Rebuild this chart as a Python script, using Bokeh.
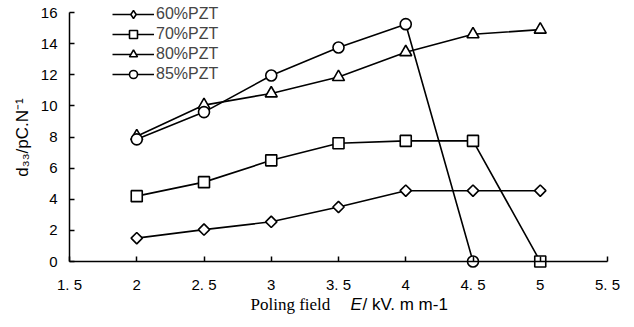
import math
from bokeh.plotting import figure
from bokeh.models import FixedTicker, Range1d, Label, Legend
from bokeh.embed import file_html
from bokeh.resources import INLINE

# ---- data ----
field = [2, 2.5, 3, 3.5, 4, 4.5, 5]
pzt60 = [1.5, 2.05, 2.55, 3.5, 4.55, 4.55, 4.55]
pzt70 = [4.2, 5.1, 6.5, 7.6, 7.75, 7.75, 0.0]
pzt80 = [8.05, 10.05, 10.8, 11.85, 13.45, 14.6, 14.9]
field85 = [2, 2.5, 3, 3.5, 4, 4.5]
pzt85 = [7.85, 9.6, 11.95, 13.75, 15.25, 0.0]

x_ticks = [1.5, 2, 2.5, 3, 3.5, 4, 4.5, 5, 5.5]
x_tick_labels = ["1. 5", "2", "2. 5", "3", "3. 5", "4", "4. 5", "5", "5. 5"]
y_ticks = [0, 2, 4, 6, 8, 10, 12, 14, 16]

FONT = "Liberation Sans"

# frame covers the whole canvas; axes are drawn at fixed data positions
W, H = 626, 325
X0, X1 = 1.5, 5.5
Y0, Y1 = 0, 16
PX_L, PX_R = 69, 607      # pixel positions of x=1.5 and x=5.5
PY_B, PY_T = 261, 12      # pixel positions of y=0 and y=16
sx = (PX_R - PX_L) / (X1 - X0)
sy = (PY_B - PY_T) / (Y1 - Y0)
x_range = Range1d(X0 - PX_L / sx, X1 + (W - PX_R) / sx)
y_range = Range1d(Y0 - (H - PY_B) / sy, Y1 + PY_T / sy)

p = figure(width=W, height=H, output_backend="svg", toolbar_location=None,
           x_range=x_range, y_range=y_range,
           min_border_left=0, min_border_right=0, min_border_top=0,
           min_border_bottom=0)
# range used only by legend-only glyphs, so they never appear in the plot area
p.extra_x_ranges = {"legend_only": Range1d(-1000, -999)}
p.outline_line_color = None
p.xgrid.visible = False
p.ygrid.visible = False
p.background_fill_color = "white"

for ax in (p.xaxis[0], p.yaxis[0]):
    ax.axis_line_color = "black"
    ax.axis_line_width = 1.5
    ax.major_tick_line_color = "black"
    ax.major_tick_line_width = 1.5
    ax.major_tick_in = 5
    ax.major_tick_out = 0
    ax.minor_tick_line_color = None
    ax.major_label_text_font = FONT
    ax.major_label_text_font_size = "15px"
    ax.major_label_text_color = "black"

p.xaxis.fixed_location = 0
p.xaxis.bounds = (X0, X1)
p.xaxis.ticker = FixedTicker(ticks=x_ticks)
p.xaxis.major_label_overrides = {t: l for t, l in zip(x_ticks, x_tick_labels)}
p.xaxis.major_label_standoff = 14
p.yaxis.fixed_location = X0
p.yaxis.bounds = (Y0, Y1)
p.yaxis.ticker = FixedTicker(ticks=y_ticks)
p.yaxis.major_label_standoff = 12

# (name, x, y, plot marker, size, angle, legend marker)
series = [
    ("60%PZT", field, pzt60, "square", 8, math.pi / 4, "diamond"),
    ("70%PZT", field, pzt70, "square", 11, 0.0, "square"),
    ("80%PZT", field, pzt80, "triangle", 12, 0.0, "triangle"),
    ("85%PZT", field85, pzt85, "circle", 11, 0.0, "circle"),
]
items = []
for name, xs, ys, marker, size, ang, lmarker in series:
    r1 = p.line(xs, ys, line_color="black", line_width=1.6)
    r2 = p.scatter(xs, ys, marker=marker, size=size, angle=ang, fill_color="white",
                   line_color="black", line_width=1.6)
    if lmarker != marker:
        r2 = p.scatter(xs, ys, marker=lmarker, size=size, fill_color="white",
                       line_color="black", line_width=1.5,
                       x_range_name="legend_only")
    items.append((name, [r1, r2]))

legend = Legend(items=items, location=(112, H - 84), orientation="vertical",
                background_fill_alpha=0, border_line_color=None,
                padding=0, margin=0, spacing=0,
                glyph_width=42, glyph_height=20, label_height=20,
                label_standoff=2, label_text_font=FONT,
                label_text_font_size="16px")
p.add_layout(legend, "center")

def px2x(px):
    return X0 + (px - PX_L) / sx

def py2y(py):
    return Y0 + (PY_B - py) / sy

p.add_layout(Label(x=px2x(250), y=py2y(304), text="Poling field",
                   text_font="Liberation Serif", text_font_size="17px",
                   text_baseline="middle", text_align="left", text_color="black"))
p.add_layout(Label(x=px2x(350), y=py2y(304), text="E", text_font=FONT,
                   text_font_style="italic", text_font_size="17px",
                   text_baseline="middle", text_align="left", text_color="black"))
p.add_layout(Label(x=px2x(362), y=py2y(304), text="/ kV. m m-1", text_font=FONT,
                   text_font_size="17px", text_baseline="middle", text_align="left",
                   text_color="black"))
p.add_layout(Label(x=px2x(22), y=py2y(137), text="d\u2083\u2083/pC.N\u207b\u00b9",
                   text_font=FONT, text_font_size="17px", angle=math.pi / 2,
                   text_baseline="middle", text_align="center", text_color="black"))

open("out.html", "w").write(file_html(p, INLINE))
